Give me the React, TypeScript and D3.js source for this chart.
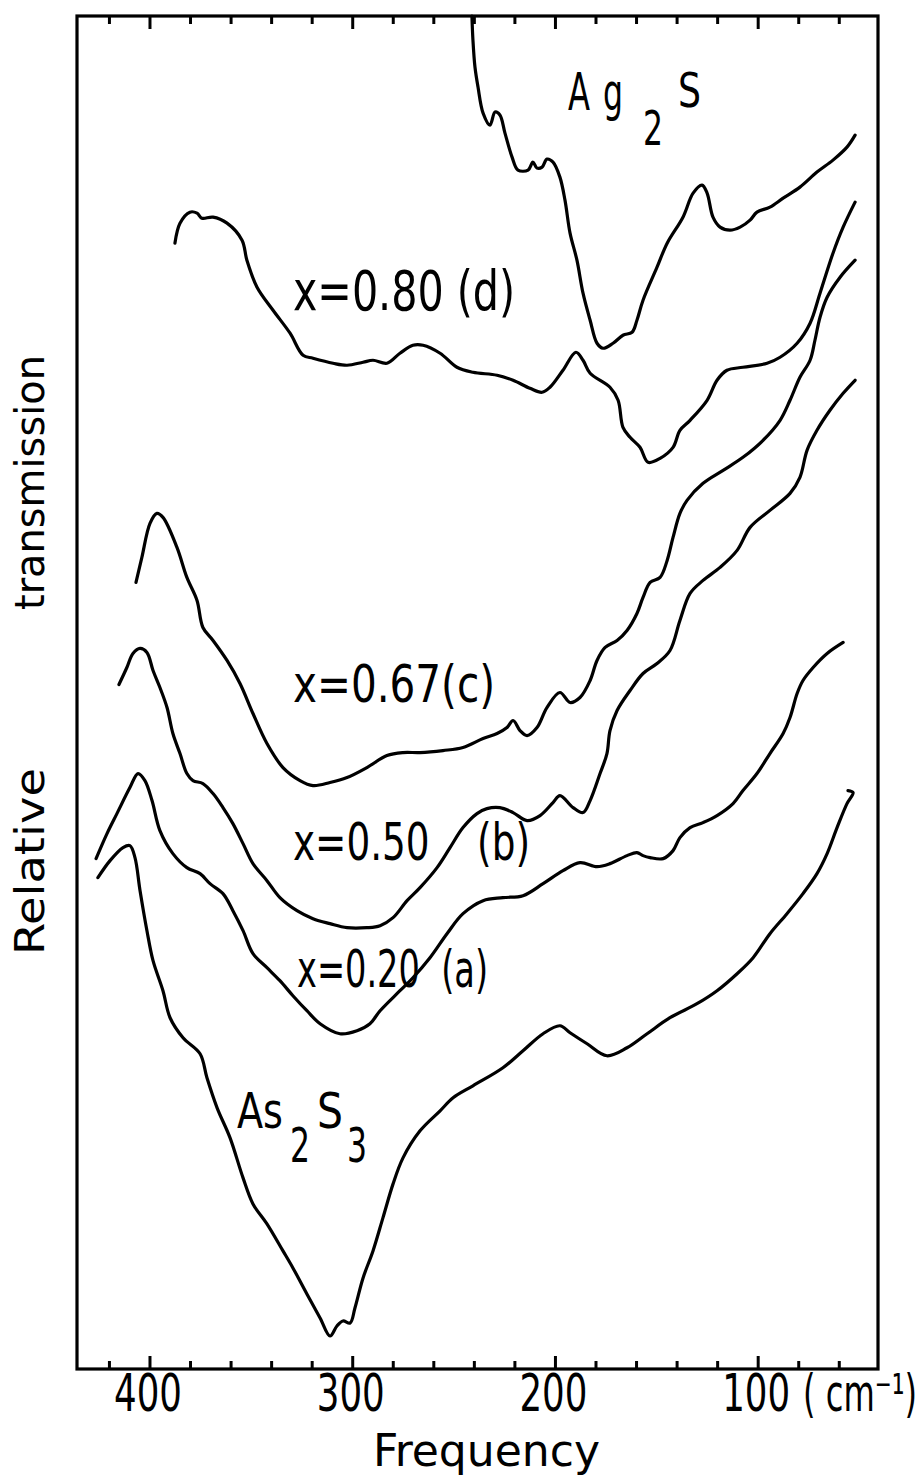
import React, { useLayoutEffect, useRef, useState } from "react";
import * as d3 from "d3";

// Far-infrared transmission spectra of (Ag2S)x(As2S3)1-x glasses.
// Each point: [frequency in cm^-1, relative transmission in arbitrary units].
type Pt = [number, number];

const ag2S: Pt[] = [
  [241.2, 135.2], [240.7, 132.8], [239.7, 130.1], [238.2, 128.1], [235.7, 125.5],
  [232.3, 124.3], [229.8, 125.6], [227.4, 125.3], [224.9, 123.5], [221.4, 121.1],
  [218.5, 119.8], [213.5, 119.8], [211.1, 120.6], [209.1, 120.0], [206.6, 120.1],
  [204.2, 120.9], [201.2, 120.6], [197.8, 119.1], [195.3, 116.8], [192.8, 113.5],
  [189.4, 110.8], [186.4, 107.5], [182.9, 104.8], [179.5, 102.5], [176.5, 102.0],
  [171.6, 102.5], [166.7, 103.3], [162.2, 103.6], [159.8, 104.8], [156.8, 106.8],
  [149.9, 110.1], [144.9, 112.5], [137.1, 115.1], [132.1, 117.5], [127.7, 118.3],
  [125.2, 117.5], [122.3, 115.1], [118.8, 114.1], [113.9, 113.8], [108.9, 114.1],
  [104.0, 114.8], [100.6, 115.6], [94.2, 116.1], [87.7, 117.0], [79.4, 118.1],
  [71.0, 119.6], [63.1, 120.8], [56.2, 122.1], [52.2, 123.3],
];

const x080: Pt[] = [
  [387.7, 112.5], [385.2, 114.5], [380.3, 115.6], [376.8, 115.5], [374.4, 115.0],
  [368.9, 115.1], [362.0, 114.5], [354.6, 112.8], [352.2, 110.8], [347.2, 108.1],
  [339.3, 105.8], [330.9, 103.5], [324.5, 101.3], [319.6, 101.0], [309.7, 100.5],
  [302.8, 100.3], [294.9, 100.6], [290.0, 100.8], [283.1, 100.5], [276.7, 101.5],
  [270.3, 102.3], [265.3, 102.3], [256.9, 101.5], [248.6, 100.1], [240.7, 99.6],
  [228.8, 99.3], [220.9, 98.8], [212.6, 98.0], [206.6, 97.6], [202.7, 98.1],
  [196.3, 99.8], [189.9, 101.6], [186.4, 100.8], [182.9, 99.5], [173.1, 98.1],
  [169.1, 96.8], [166.7, 94.1], [163.2, 93.1], [158.3, 92.1], [154.3, 90.6],
  [148.4, 91.0], [142.0, 92.1], [138.6, 93.8], [133.6, 94.8], [125.2, 96.8],
  [120.3, 98.8], [115.4, 99.8], [107.5, 100.1], [95.6, 100.5], [89.2, 101.1],
  [80.8, 102.5], [74.4, 104.5], [69.5, 107.5], [63.1, 111.5], [58.1, 114.1],
  [52.2, 116.6],
];

const x067: Pt[] = [
  [406.9, 78.6], [404.0, 81.1], [400.0, 84.5], [396.6, 85.5], [393.6, 85.1],
  [386.7, 82.1], [381.8, 79.1], [376.8, 76.8], [373.9, 74.1], [368.9, 72.8],
  [362.0, 70.8], [355.6, 68.5], [349.2, 65.5], [342.3, 62.5], [334.4, 60.1],
  [326.0, 58.8], [319.6, 58.3], [311.2, 58.6], [302.8, 59.1], [293.0, 60.1],
  [283.1, 61.3], [275.2, 61.6], [266.8, 61.6], [255.5, 61.8], [245.6, 62.1],
  [235.7, 63.0], [228.8, 63.5], [223.9, 64.1], [220.9, 64.8], [217.5, 63.8],
  [214.0, 63.3], [209.1, 64.1], [204.2, 66.1], [197.8, 67.6], [192.8, 66.6],
  [187.9, 67.1], [182.9, 68.8], [179.5, 70.8], [175.5, 72.1], [169.6, 72.8],
  [164.7, 73.8], [159.8, 75.5], [156.8, 77.1], [153.3, 78.6], [148.4, 79.1],
  [144.9, 80.8], [142.0, 83.1], [138.6, 85.5], [135.1, 86.8], [127.2, 88.5],
  [117.3, 89.8], [107.5, 91.1], [97.6, 92.8], [89.2, 94.8], [84.3, 96.8],
  [79.4, 99.1], [74.4, 100.8], [72.0, 102.8], [69.5, 105.1], [66.0, 107.1],
  [59.6, 109.1], [52.2, 110.8],
];

const x050: Pt[] = [
  [415.3, 68.4], [411.4, 70.1], [408.4, 71.5], [404.9, 72.0], [401.5, 71.6],
  [398.5, 69.8], [395.1, 68.1], [391.6, 66.1], [388.7, 63.5], [385.2, 61.5],
  [381.8, 59.5], [378.8, 58.8], [373.9, 58.5], [368.9, 57.5], [364.0, 56.1],
  [359.1, 54.5], [354.1, 52.5], [349.2, 50.5], [342.3, 48.8], [335.9, 47.1],
  [327.5, 45.8], [319.6, 45.0], [311.2, 44.5], [302.8, 44.1], [293.0, 44.1],
  [286.5, 44.3], [280.1, 45.1], [273.2, 46.8], [266.8, 48.1], [258.4, 50.1],
  [252.0, 52.1], [245.6, 54.1], [238.7, 55.5], [233.8, 56.0], [227.4, 56.1],
  [220.9, 55.6], [214.0, 54.8], [207.6, 55.3], [201.2, 56.6], [197.8, 57.3],
  [191.3, 56.1], [186.4, 55.6], [182.9, 56.8], [178.0, 59.5], [174.6, 61.5],
  [173.1, 63.8], [169.6, 65.8], [163.2, 67.8], [156.8, 69.5], [149.9, 70.5],
  [143.5, 71.8], [138.6, 74.8], [133.6, 77.5], [127.2, 78.8], [118.8, 80.1],
  [110.4, 81.8], [104.0, 84.1], [94.2, 85.8], [84.3, 87.5], [79.4, 89.1],
  [75.9, 91.8], [71.0, 93.8], [64.6, 95.8], [58.1, 97.5], [52.2, 98.8],
];

const x020: Pt[] = [
  [426.6, 51.0], [421.2, 53.5], [416.3, 55.5], [409.9, 58.1], [405.9, 59.5],
  [402.5, 58.8], [399.0, 56.8], [395.1, 53.8], [388.7, 51.5], [381.8, 50.1],
  [375.3, 49.5], [370.4, 48.5], [364.0, 47.5], [359.1, 45.8], [354.1, 43.8],
  [349.2, 41.5], [342.3, 40.1], [335.9, 38.8], [329.5, 37.3], [322.6, 35.8],
  [316.1, 34.5], [306.3, 33.5], [297.9, 33.8], [291.5, 34.5], [286.5, 35.8],
  [276.7, 37.8], [270.3, 39.1], [261.9, 41.1], [253.5, 43.5], [245.6, 45.5],
  [235.7, 46.8], [225.9, 47.1], [216.0, 47.3], [206.1, 48.5], [196.3, 49.8],
  [187.9, 50.6], [179.5, 50.2], [173.1, 50.5], [164.7, 51.3], [159.8, 51.6],
  [156.8, 51.3], [153.3, 51.1], [146.9, 51.0], [142.0, 51.8], [138.6, 53.1],
  [133.6, 54.1], [127.2, 54.6], [120.3, 55.3], [112.4, 56.5], [107.5, 57.8],
  [100.6, 59.5], [94.2, 61.5], [87.7, 63.5], [84.3, 65.1], [80.8, 67.5],
  [77.9, 68.8], [72.9, 70.1], [66.0, 71.5], [58.1, 72.6],
];

const as2S3: Pt[] = [
  [425.7, 49.1], [419.7, 50.8], [413.3, 52.1], [409.9, 52.3], [407.4, 51.1],
  [404.9, 47.8], [401.5, 43.8], [398.5, 40.8], [393.6, 37.8], [390.1, 35.1],
  [383.7, 33.1], [375.3, 31.5], [371.9, 29.1], [366.9, 26.1], [360.5, 23.1],
  [354.1, 19.1], [349.2, 16.5], [342.3, 14.5], [334.4, 11.8], [329.5, 10.1],
  [322.6, 7.5], [316.1, 5.1], [311.2, 3.3], [307.8, 4.3], [304.8, 4.8],
  [301.3, 4.6], [298.9, 6.1], [294.9, 9.1], [290.0, 11.8], [285.1, 15.1],
  [280.1, 18.5], [275.2, 21.1], [266.8, 23.8], [256.9, 25.8], [250.5, 27.1],
  [240.7, 28.3], [225.9, 30.1], [216.0, 31.8], [206.1, 33.5], [197.8, 34.3],
  [192.8, 33.6], [184.4, 32.5], [174.6, 31.3], [164.7, 32.1], [154.8, 33.5],
  [143.5, 35.1], [130.2, 36.5], [120.3, 37.8], [110.4, 39.5], [102.5, 41.1],
  [94.2, 43.5], [85.8, 45.5], [77.9, 47.5], [71.0, 49.5], [66.0, 51.5],
  [61.1, 54.1], [56.2, 56.5], [53.2, 57.6], [55.7, 57.8],
];

const spectra: Pt[][] = [ag2S, x080, x067, x050, x020, as2S3];

const minorTicks = d3.range(420, 40, -20);
const majorTicks = [400, 300, 200, 100];
const tickLabels = ["400", "300", "200", "100"];
const unitLabel = "( cm⁻¹)";
const xTitle = "Frequency";

const W = 923;
const H = 1479;
const frame = { left: 77, right: 878, top: 16, bottom: 1369 };

const FONT = "'DejaVu Sans Condensed', 'DejaVu Sans', sans-serif";

export default function App() {
  const x = d3.scaleLinear().domain([436.0, 40.9]).range([frame.left, frame.right]);
  const y = d3.scaleLinear().domain([0, 135.2]).range([frame.bottom, frame.top]);
  const line = d3
    .line<Pt>()
    .x((d) => x(d[0]))
    .y((d) => y(d[1]))
    .curve(d3.curveCatmullRom.alpha(0.5));

  const tickLen = (f: number) => (majorTicks.includes(f) ? 13 : 8);

  // bottom-axis lettering is squeezed horizontally to the narrow stencil width
  const tickRef = useRef<SVGTextElement>(null);
  const unitRef = useRef<SVGTextElement>(null);
  const titleRef = useRef<SVGTextElement>(null);
  const [tickScale, setTickScale] = useState(0.8);
  const [unitScale, setUnitScale] = useState(0.7);
  const [titleScale, setTitleScale] = useState(0.85);
  const tickWidth = 68;
  const unitWidth = 114;
  const titleWidth = 227;
  useLayoutEffect(() => {
    const t = tickRef.current?.getComputedTextLength();
    if (t && t > 0) setTickScale(tickWidth / t);
    const u = unitRef.current?.getComputedTextLength();
    if (u && u > 0) setUnitScale(unitWidth / u);
    const f = titleRef.current?.getComputedTextLength();
    if (f && f > 0) setTitleScale(titleWidth / f);
  }, []);

  const txt = (
    s: string,
    xx: number,
    yy: number,
    size: number,
    len?: number,
    anchor: "start" | "middle" = "start"
  ) => (
    <text
      x={xx}
      y={yy}
      fontSize={size}
      textAnchor={anchor}
      fontFamily={FONT}
      fill="#000"
      style={{ whiteSpace: "pre" }}
      {...(len ? { textLength: len, lengthAdjust: "spacingAndGlyphs" } : {})}
    >
      {s}
    </text>
  );

  const labelY = 1411;
  const labelSize = 51;

  return (
    <svg
      width={W}
      height={H}
      viewBox={`0 0 ${W} ${H}`}
      style={{ position: "absolute", left: 0, top: 0, background: "#fff" }}
    >
      <rect x={0} y={0} width={W} height={H} fill="#fff" />

      {/* frame */}
      <rect
        x={frame.left}
        y={frame.top}
        width={frame.right - frame.left}
        height={frame.bottom - frame.top}
        fill="none"
        stroke="#000"
        strokeWidth={3.2}
      />

      {/* inward ticks on bottom and top edges */}
      {minorTicks.map((f) => (
        <g key={f}>
          <line
            x1={x(f)}
            x2={x(f)}
            y1={frame.bottom}
            y2={frame.bottom - tickLen(f)}
            stroke="#000"
            strokeWidth={3}
          />
          <line
            x1={x(f)}
            x2={x(f)}
            y1={frame.top}
            y2={frame.top + tickLen(f)}
            stroke="#000"
            strokeWidth={3}
          />
        </g>
      ))}

      {/* spectra */}
      {spectra.map((s, i) => (
        <path
          key={i}
          d={line(s) ?? ""}
          fill="none"
          stroke="#000"
          strokeWidth={3.2}
          strokeLinejoin="round"
          strokeLinecap="round"
        />
      ))}

      {/* x tick labels */}
      {majorTicks.map((f, i) => (
        <g key={f} transform={`translate(${x(f) - 2}, ${labelY}) scale(${tickScale}, 1)`}>
          <text
            ref={i === 0 ? tickRef : undefined}
            x={0}
            y={0}
            fontSize={labelSize}
            textAnchor="middle"
            fontFamily={FONT}
            fill="#000"
          >
            {tickLabels[i]}
          </text>
        </g>
      ))}
      <g transform={`translate(803, ${labelY}) scale(${unitScale}, 1)`}>
        <text
          ref={unitRef}
          x={0}
          y={0}
          fontSize={labelSize}
          fontFamily={FONT}
          fill="#000"
          style={{ whiteSpace: "pre" }}
        >
          {unitLabel}
        </text>
      </g>

      {/* axis titles */}
      <g transform={`translate(373, 1466) scale(${titleScale}, 1)`}>
        <text ref={titleRef} x={0} y={0} fontSize={44} fontFamily={FONT} fill="#000">
          {xTitle}
        </text>
      </g>
      <g transform="translate(44, 955) rotate(-90)">
        {txt("Relative", 0, 0, 40, 187)}
      </g>
      <g transform="translate(44, 610) rotate(-90)">
        {txt("transmission", 0, 0, 40, 255)}
      </g>

      {/* curve labels */}
      {txt("A", 568, 110, 51, 22)}
      {txt("g", 603, 110, 51, 20)}
      {txt("2", 643, 145, 48, 20)}
      {txt("S", 678, 107, 48, 23)}

      {txt("x=0.80 (d)", 293, 310, 55, 222)}
      {txt("x=0.67(c)", 293, 702, 51, 202)}
      {txt("x=0.50    (b)", 293, 860, 51, 237)}
      {txt("x=0.20  (a)", 297, 987, 51, 191)}

      {txt("As", 237, 1128, 50, 46)}
      {txt("2", 290, 1162, 48, 20)}
      {txt("S", 317, 1128, 50, 26)}
      {txt("3", 347, 1162, 48, 20)}
    </svg>
  );
}
